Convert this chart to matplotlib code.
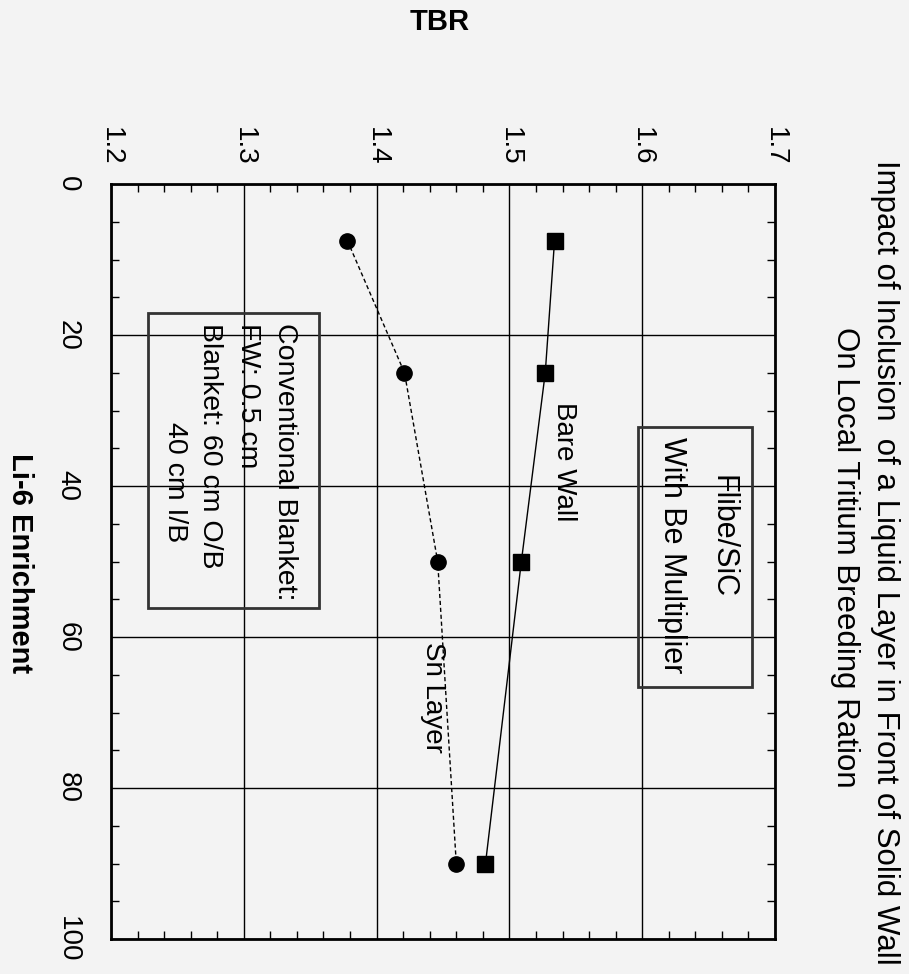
import matplotlib
matplotlib.use("Agg")
import matplotlib.pyplot as plt
from matplotlib.patches import Rectangle
from matplotlib.ticker import MultipleLocator

plt.rcParams['font.family'] = ['Liberation Sans', 'DejaVu Sans']

# data (Li-6 enrichment %, TBR)
enrichment = [7.5, 25, 50, 90]
tbr_sn_layer = [1.378, 1.421, 1.446, 1.460]
tbr_bare_wall = [1.534, 1.527, 1.509, 1.482]
tbr_ticks = [1.2, 1.3, 1.4, 1.5, 1.6, 1.7]
enrich_ticks = [0, 20, 40, 60, 80, 100]

bg = '#f3f3f3'
fig = plt.figure(figsize=(9.09, 9.74), dpi=100, facecolor=bg)
ax = fig.add_axes([111 / 909, 1 - 939 / 974, 664 / 909, 755 / 974], facecolor=bg)

# the chart is drawn turned a quarter turn: TBR across, enrichment downward
ax.plot(tbr_sn_layer, enrichment, color='black', lw=1, ls=(0, (3, 2)),
        marker='o', ms=11, zorder=3)
ax.plot(tbr_bare_wall, enrichment, color='black', lw=1, ls='-',
        marker='s', ms=11, zorder=3)

ax.set_xlim(1.2, 1.7)
ax.set_ylim(100, 0)
ax.set_xticks(tbr_ticks)
ax.set_xticklabels([f"{t:.1f}" for t in tbr_ticks])
ax.set_yticks(enrich_ticks)
ax.xaxis.set_minor_locator(MultipleLocator(0.02))
ax.yaxis.set_minor_locator(MultipleLocator(5))
ax.xaxis.tick_top()
ax.grid(True, which='major', color='black', lw=1)
ax.tick_params(which='both', direction='in', top=True, bottom=True,
               left=True, right=True, color='black')
ax.tick_params(which='major', length=0)
ax.tick_params(which='minor', length=6, width=1)
ax.tick_params(axis='x', labelsize=20, pad=13, labelrotation=-90)
ax.tick_params(axis='y', labelsize=20, pad=22, labelrotation=-90)
for lab in ax.get_yticklabels():
    lab.set_va('center')
for s in ax.spines.values():
    s.set_linewidth(2)

# annotations
ax.text(1.5411, 28.9, "Bare Wall", rotation=-90, fontsize=20,
        ha='center', va='top')
ax.text(1.4425, 60.7, "Sn Layer", rotation=-90, fontsize=20,
        ha='center', va='top')

ax.add_patch(Rectangle((1.2279, 17.1), 0.1287, 39.1,
                       fill=False, lw=2, ec='#333333', zorder=4))
ax.text(1.3310, 18.4, "Conventional Blanket:", rotation=-90, fontsize=20.5,
        ha='center', va='top', zorder=5)
ax.text(1.3032, 18.4, "FW: 0.5 cm", rotation=-90, fontsize=20.5,
        ha='center', va='top', zorder=5)
ax.text(1.2745, 18.4, "Blanket: 60 cm O/B", rotation=-90, fontsize=20.5,
        ha='center', va='top', zorder=5)
ax.text(1.2482, 31.5, "40 cm I/B", rotation=-90, fontsize=20.5,
        ha='center', va='top', zorder=5)

ax.add_patch(Rectangle((1.5968, 32.2), 0.0859, 34.4,
                       fill=False, lw=2, ec='#333333', zorder=4))
ax.text(1.6608, 38.5, "Flibe/SiC", rotation=-90, fontsize=22,
        ha='center', va='top', zorder=5)
ax.text(1.6224, 33.5, "With Be Multiplier", rotation=-90, fontsize=22,
        ha='center', va='top', zorder=5)

# titles and axis names
fig.text(885 / 909, 1 - 562 / 974,
         "Impact of Inclusion  of a Liquid Layer in Front of Solid Wall",
         rotation=-90, fontsize=22.5, ha='center', va='center')
fig.text(845 / 909, 1 - 557 / 974, "On Local Tritium Breeding Ration",
         rotation=-90, fontsize=22.5, ha='center', va='center')
fig.text(440 / 909, 1 - 22 / 974, "TBR", fontsize=21, fontweight='bold',
         ha='center', va='center')
fig.text(20 / 909, 1 - 563 / 974, "Li-6 Enrichment", rotation=-90,
         fontsize=21, fontweight='bold', ha='center', va='center')

fig.savefig("out.png", dpi=100, facecolor=bg)
